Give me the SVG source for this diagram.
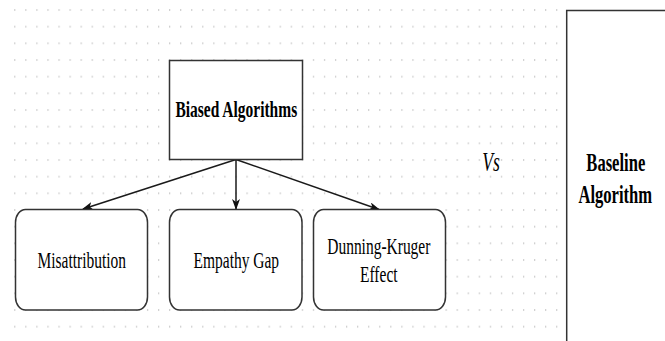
<svg xmlns="http://www.w3.org/2000/svg" width="665" height="341" viewBox="0 0 665 341">
  <defs>
    <!-- background dot grid -->
    <pattern id="grid" patternUnits="userSpaceOnUse" x="14.2" y="9" width="11.06" height="16.667">
      <rect x="0" y="0" width="1.2" height="2" fill="#cfcfcf"/>
    </pattern>
    <marker id="arrow" viewBox="0 0 11 8" refX="10" refY="4" markerWidth="11" markerHeight="8" markerUnits="userSpaceOnUse" orient="auto">
      <path d="M0,0 L11,4 L0,8 L3,4 Z" fill="#111"/>
    </marker>
    <style>
      .box { fill: #ffffff; stroke: #333333; stroke-width: 1.5; }
      .edge { fill: none; stroke: #1a1a1a; stroke-width: 1.5; marker-end: url(#arrow); }
      .lbl { font-size: 14px; fill: #000; text-anchor: middle; }
      .bold { font-weight: bold; }
      .ital { font-style: italic; font-size: 16px; }
      .big { font-size: 15px; }
    </style>
  </defs>

  <rect width="665" height="341" fill="#ffffff"/>
  <rect x="10" y="5" width="550" height="325" fill="url(#grid)"/>

  <g id="connectors">
    <line class="edge" x1="236" y1="159.5" x2="83" y2="209"/>
    <line class="edge" x1="236" y1="159.5" x2="236" y2="209"/>
    <line class="edge" x1="236" y1="159.5" x2="379" y2="209.5"/>
  </g>

  <g font-family="Liberation Serif, DejaVu Serif, serif">
    <g id="biased-algorithms">
      <rect class="box" x="169.5" y="60.5" width="133" height="99"/>
      <text class="lbl bold" transform="matrix(1.106 0 0 1.667 236.3 116.5)">Biased Algorithms</text>
    </g>

    <g id="misattribution">
      <rect class="box" x="15.5" y="209.5" width="132" height="100.5" rx="10" ry="13"/>
      <text class="lbl" transform="matrix(1.106 0 0 1.667 81.8 267.5)">Misattribution</text>
    </g>

    <g id="empathy-gap">
      <rect class="box" x="169.5" y="209.5" width="132.5" height="100.5" rx="10" ry="13"/>
      <text class="lbl" transform="matrix(1.106 0 0 1.667 236.3 267.5)">Empathy Gap</text>
    </g>

    <g id="dunning-kruger">
      <rect class="box" x="313.5" y="209.5" width="132" height="100.5" rx="10" ry="13"/>
      <text class="lbl" transform="matrix(1.106 0 0 1.667 378.8 254)">Dunning-Kruger</text>
      <text class="lbl" transform="matrix(1.106 0 0 1.667 378.8 281.7)">Effect</text>
    </g>

    <g id="vs">
      <text class="lbl ital" transform="matrix(1.106 0 0 1.667 491 170.7)">Vs</text>
    </g>

    <g id="baseline-algorithm">
      <rect class="box" x="566.7" y="10.5" width="110" height="340"/>
      <text class="lbl bold big" transform="matrix(1.106 0 0 1.667 615.8 171)">Baseline</text>
      <text class="lbl bold big" transform="matrix(1.106 0 0 1.667 615.3 202.5)">Algorithm</text>
    </g>
  </g>
</svg>
